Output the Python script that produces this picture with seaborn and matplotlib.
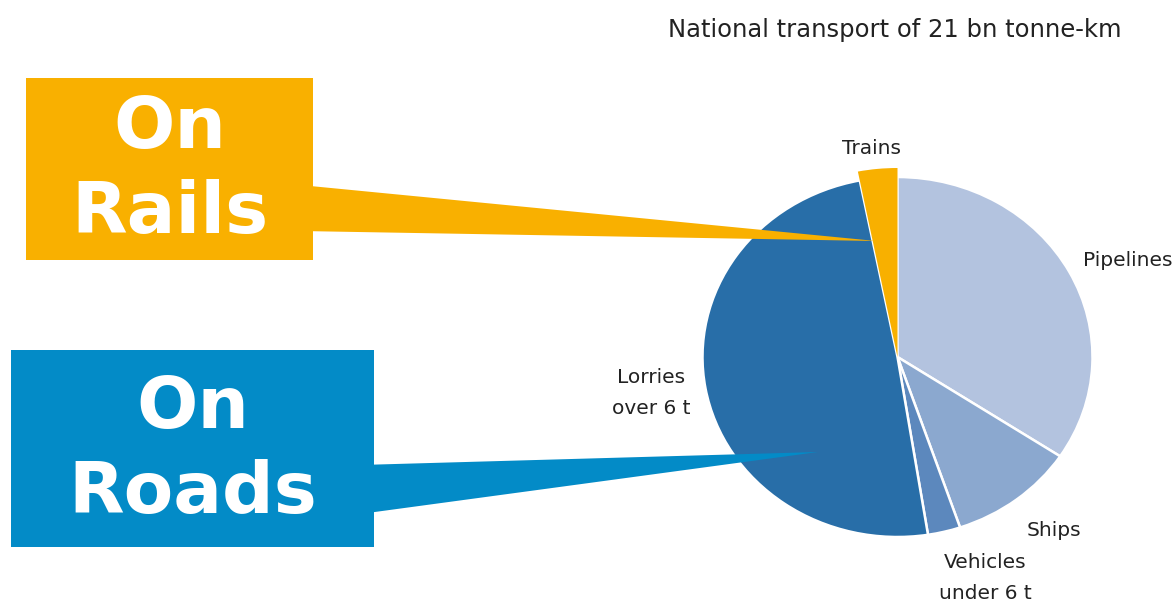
import matplotlib
matplotlib.use("Agg")
import matplotlib.pyplot as plt
from matplotlib.patches import Polygon, Rectangle
import seaborn as sns

# pie shares (percent), clockwise from 12 o'clock
modes = ["Pipelines", "Ships", "Vehicles\nunder 6 t", "Lorries\nover 6 t", "Trains"]
shares = [34.3, 10.5, 2.7, 49.4, 3.1]
pie_colors = ["#b3c3df", "#8ba8cf", "#5c88bd", "#286ea8", "#f8b000"]

title = "National transport of 21 bn tonne-km"
callouts = ["On\nRails", "On\nRoads"]
callout_colors = ["#f9b000", "#038bc7"]

sns.set_style("white")
plt.rcParams["font.family"] = ["DejaVu Sans"]

W, H = 1175, 606
fig = plt.figure(figsize=(W / 100, H / 100), dpi=100)

# pie axes, slightly wider than tall like the original
cx, cy, rx, ry = 897.5, 357, 195, 180
pax = fig.add_axes([(cx - 1.25 * rx) / W, (H - cy - 1.25 * ry) / H,
                    2.5 * rx / W, 2.5 * ry / H])
wedges, _ = pax.pie(shares, colors=pie_colors, startangle=90, counterclock=False,
                    frame=True, wedgeprops=dict(edgecolor="white", linewidth=1.8))
wedges[-1].set_radius(1.05)
wedges[-1].set_edgecolor("none")
pax.set_xlim(-1.25, 1.25)
pax.set_ylim(-1.25, 1.25)
pax.set_aspect("auto")
pax.axis("off")

# overlay axes in pixel coordinates for callouts and labels
ax = fig.add_axes([0, 0, 1, 1], facecolor="none")
ax.set_xlim(0, W)
ax.set_ylim(H, 0)
ax.axis("off")

# rails callout
ax.add_patch(Polygon([(300, 185), (300, 231), (876, 241)], closed=True,
                     color=callout_colors[0], lw=0))
ax.add_patch(Rectangle((26, 78), 287, 182, color=callout_colors[0], lw=0))
# roads callout
ax.add_patch(Polygon([(360, 465), (360, 514), (818, 452)], closed=True,
                     color=callout_colors[1], lw=0))
ax.add_patch(Rectangle((11, 350), 363, 197, color=callout_colors[1], lw=0))

big = dict(color="white", fontsize=52, fontweight="bold", ha="center",
           va="center", linespacing=1.28)
ax.text(170, 171, callouts[0], **big)
ax.text(193, 451, callouts[1], **big)

lab = dict(color="#222222", fontsize=14.5)
ax.text(895, 30, title, ha="center", va="center", **dict(lab, fontsize=17.5))
ax.text(871, 149, modes[4], ha="center", va="center", **lab)
ax.text(1083, 260, modes[0], ha="left", va="center", **lab)
ax.text(651, 393, modes[3], ha="center", va="center", linespacing=1.85, **lab)
ax.text(1054, 530, modes[1], ha="center", va="center", **lab)
ax.text(985, 578, modes[2], ha="center", va="center", linespacing=1.8, **lab)

fig.savefig("out.png", dpi=100)
